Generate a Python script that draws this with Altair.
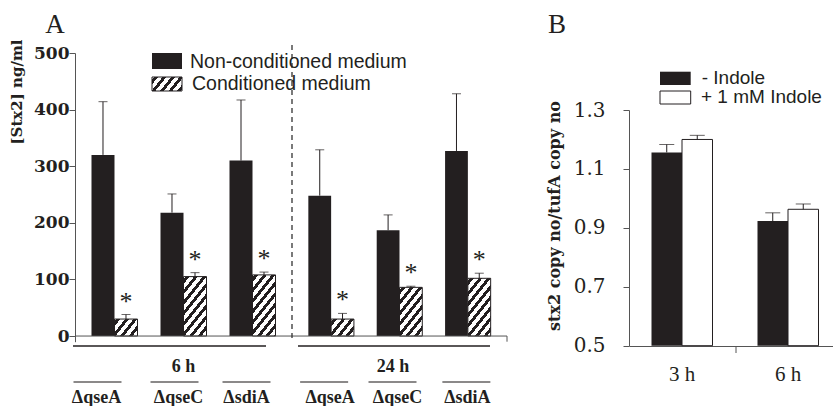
import altair as alt
import pandas as pd

# ---------------- data ----------------
strains = ["ΔqseA", "ΔqseC", "ΔsdiA"]
media = ["Non-conditioned medium", "Conditioned medium"]
nc_6h = [320, 218, 310]
nc_6h_err = [94, 33, 107]
c_6h = [30, 105, 108]
c_6h_err = [8, 7, 5]
nc_24h = [248, 187, 327]
nc_24h_err = [81, 27, 101]
c_24h = [30, 86, 102]
c_24h_err = [10, 2, 9]
a_ticks = [0, 100, 200, 300, 400, 500]

b_times = ["3 h", "6 h"]
b_groups = ["- Indole", "+ 1 mM Indole"]
b_minus = [1.156, 0.923]
b_minus_err = [0.027, 0.028]
b_plus = [1.200, 0.963]
b_plus_err = [0.014, 0.018]
b_ticks = [0.5, 0.7, 0.9, 1.1, 1.3]

# ---------------- layout / style ----------------
INK = "#231f20"
AXC = "#555555"
W, H = 758, 293
A_YR = [288.7, 0]
A_PX = 288.7 / 510.0
PI, PO = 1 / 3, 0.239
line_shift_6 = [-17, -9, -6]
label_shift_6 = [-18, -5, -6]
line_shift_24 = [-7, -7, -1.5]
label_shift_24 = [-1, -2, -0.5]

a_yscale = alt.Scale(domain=[-10, 500], range=A_YR, nice=False, zero=False)
a_yaxis = alt.Axis(values=a_ticks, title=None, grid=False, domainColor=AXC, tickColor=AXC,
                   tickSize=6, labelPadding=0, labelFont="DejaVu Serif", labelFontWeight="bold",
                   labelFontSize=17, labelColor=INK)
b_yscale = alt.Scale(domain=[0.5, 1.3], range=[292.7, 57], nice=False, zero=False)
b_yaxis = alt.Axis(orient="left", offset=-554, values=b_ticks, format=".1f", title=None, grid=False,
                   domainColor=AXC, tickColor=AXC, tickSize=6, labelPadding=18,
                   labelFont="DejaVu Serif", labelFontSize=20, labelColor=INK)
b_xaxis = alt.Axis(orient="bottom", ticks=False, tickSize=0, domain=True, domainColor=AXC,
                   labelAngle=0, labelPadding=17, labelFont="Liberation Serif", labelFontSize=21,
                   labelColor=INK, title=None)


def hatch_fill(w, h, px=8.5, slope=1.25, duty=0.45):
    a = slope * w
    gy1 = h / a
    smax1 = (a + h) / (a * (1 + gy1 ** 2))
    K = max(1.0, smax1 * 1.02)
    gx, gy = K, K * gy1
    denom = gx ** 2 + gy ** 2
    to_s = lambda c: c * K / (a * denom)
    P = slope * px
    cmax = a + h
    segs = []
    c0 = -P * 0.3
    while c0 < cmax:
        segs.append((c0, c0 + (1 - duty) * P, "white"))
        segs.append((c0 + (1 - duty) * P, c0 + P, INK))
        c0 += P
    stops = []
    for s0, s1, col in segs:
        s0, s1 = max(0.0, s0), min(cmax, s1)
        if s1 <= s0:
            continue
        stops.append({"offset": round(min(1.0, to_s(s0)), 5), "color": col})
        stops.append({"offset": round(min(1.0, to_s(s1)), 5), "color": col})
    return {"gradient": "linear", "x1": 0, "y1": 0, "x2": gx, "y2": gy, "stops": stops}


def a_block(tlabel, nc, nc_err, c, c_err, xr, axis_on, lsh, tsh, tx, bx1, bx2):
    rows = []
    for i, s in enumerate(strains):
        rows.append(dict(strain=s, medium=media[0], value=nc[i], upper=nc[i] + nc_err[i]))
        rows.append(dict(strain=s, medium=media[1], value=c[i], upper=c[i] + c_err[i]))
    df = pd.DataFrame(rows)
    xs = alt.Scale(domain=strains, range=xr, paddingInner=PI, paddingOuter=PO)
    X = alt.X("strain:N", scale=xs, axis=None)
    XO = alt.XOffset("medium:N", scale=alt.Scale(domain=media, paddingInner=0, paddingOuter=0))
    yax = a_yaxis if axis_on else None

    def Y(f):
        return alt.Y(f, scale=a_yscale, axis=yax)

    base = alt.Chart(df)
    step = (xr[1] - xr[0]) / (3 - PI + 2 * PO)
    bw = step * (1 - PI) / 2
    layers = []
    layers.append(base.transform_filter(alt.datum.medium == media[0]).mark_bar(color=INK).encode(
        x=X, xOffset=XO, y=Y("value:Q"), y2=alt.Y2(datum=0)))
    for i, s in enumerate(strains):
        g = hatch_fill(bw, c[i] * A_PX)
        layers.append(base.transform_filter((alt.datum.strain == s) & (alt.datum.medium == media[1]))
                      .mark_bar(fill=g, stroke=INK, strokeWidth=1).encode(
            x=X, xOffset=XO, y=Y("value:Q"), y2=alt.Y2(datum=0)))
    layers.append(base.mark_rule(color=INK, strokeWidth=1).encode(
        x=X, xOffset=XO, y=Y("value:Q"), y2="upper:Q"))
    layers.append(base.mark_tick(orient="horizontal", size=9, thickness=1, color=INK).encode(
        x=X, xOffset=XO, y=Y("upper:Q")))
    layers.append(base.transform_filter(alt.datum.medium == media[1]).mark_text(
        text="*", font="Liberation Serif", fontSize=26, dy=-5, baseline="alphabetic",
        align="center", color=INK).encode(x=X, xOffset=XO, y=Y("upper:Q")))
    # offsets are measured from band start, so add half of the group width
    lab = pd.DataFrame({"strain": strains,
                        "lsh": [v + bw for v in lsh],
                        "tsh": [v + bw for v in tsh]})
    lbase = alt.Chart(lab)
    layers.append(lbase.mark_tick(orient="horizontal", size=48, thickness=1.6, color=INK).encode(
        x=X, xOffset=alt.XOffset("lsh:Q", scale=None), y=alt.value(329)))
    layers.append(lbase.mark_text(font="Liberation Serif", fontWeight="bold", fontSize=18,
                                  baseline="alphabetic", align="center", color=INK).encode(
        x=X, xOffset=alt.XOffset("tsh:Q", scale=None), y=alt.value(350.3), text="strain:N"))
    dummy = alt.Chart(pd.DataFrame({"t": [tlabel]}))
    layers.append(dummy.mark_rule(color=INK, strokeWidth=1.3).encode(
        x=alt.value(bx1), x2=alt.value(bx2), y=alt.value(293)))
    layers.append(dummy.mark_text(font="Liberation Serif", fontWeight="bold", fontSize=18,
                                  baseline="alphabetic", align="center", color=INK).encode(
        x=alt.value(tx), y=alt.value(318.7), text="t:N"))
    return alt.layer(*layers)


A6 = a_block("6 h", nc_6h, nc_6h_err, c_6h, c_6h_err, [0, 217], True,
             line_shift_6, label_shift_6, 108.5, -2, 191)
A24 = a_block("24 h", nc_24h, nc_24h_err, c_24h, c_24h_err, [217, 432], False,
              line_shift_24, label_shift_24, 318, 223, 415)

one = alt.Chart(pd.DataFrame({"a": [1]}))
a_extra = alt.layer(
    one.mark_rule(color=AXC, strokeWidth=1).encode(
        x=alt.value(0), x2=alt.value(432), y=alt.Y(datum=0, scale=a_yscale, axis=None)),
    one.mark_rule(color=AXC, strokeWidth=1).encode(
        x=alt.value(432), y=alt.Y(datum=0, scale=a_yscale, axis=None), y2=alt.Y2(datum=-10)),
)

# ---------------- panel B ----------------
brows = []
for i, t in enumerate(b_times):
    brows.append(dict(time=t, grp=b_groups[0], value=b_minus[i], upper=b_minus[i] + b_minus_err[i]))
    brows.append(dict(time=t, grp=b_groups[1], value=b_plus[i], upper=b_plus[i] + b_plus_err[i]))
bdf = pd.DataFrame(brows)
BX = alt.X("time:N", scale=alt.Scale(domain=b_times, range=[554, 766], paddingInner=0, paddingOuter=0),
           axis=b_xaxis)
BXO = alt.XOffset("grp:N", scale=alt.Scale(domain=b_groups, paddingInner=0, paddingOuter=0.7377))


def BY(f):
    return alt.Y(f, scale=b_yscale, axis=b_yaxis)


bb = alt.Chart(bdf)
B = alt.layer(
    bb.transform_filter(alt.datum.grp == b_groups[0]).mark_bar(color=INK).encode(
        x=BX, xOffset=BXO, y=BY("value:Q"), y2=alt.Y2(datum=0.5)),
    bb.transform_filter(alt.datum.grp == b_groups[1]).mark_bar(fill="white", stroke=INK, strokeWidth=1).encode(
        x=BX, xOffset=BXO, y=BY("value:Q"), y2=alt.Y2(datum=0.5)),
    bb.mark_rule(color=INK, strokeWidth=1).encode(x=BX, xOffset=BXO, y=BY("value:Q"), y2="upper:Q"),
    bb.mark_tick(orient="horizontal", size=15, thickness=1, color=INK).encode(
        x=BX, xOffset=BXO, y=BY("upper:Q")),
)

# ---------------- annotations ----------------
sans = "Liberation Sans"
ann = alt.layer(
    # panel letters
    one.mark_text(text="A", font="Liberation Serif", fontSize=27, align="center", baseline="alphabetic",
                  color=INK).encode(x=alt.value(-20), y=alt.value(-20)),
    one.mark_text(text="B", font="Liberation Serif", fontSize=27, align="center", baseline="alphabetic",
                  color=INK).encode(x=alt.value(482), y=alt.value(-20)),
    # y titles
    one.mark_text(text="[Stx2] ng/ml", font="DejaVu Serif", fontWeight="bold", fontSize=15, angle=270,
                  align="center", baseline="middle", color=INK).encode(x=alt.value(-58.5), y=alt.value(39)),
    one.mark_text(text="stx2 copy no/tufA copy no", font="DejaVu Serif", fontWeight="bold", fontSize=16,
                  angle=270, align="center", baseline="middle", color=INK).encode(
        x=alt.value(479.5), y=alt.value(163)),
    # dashed separator
    one.mark_rule(color="#333333", strokeWidth=1.3, strokeDash=[5, 4]).encode(
        x=alt.value(217), y=alt.value(-8), y2=alt.value(287)),
    # legend A
    one.mark_rect(color=INK).encode(x=alt.value(77), x2=alt.value(107), y=alt.value(0), y2=alt.value(16)),
    one.mark_rect(fill=hatch_fill(30, 14), stroke=INK, strokeWidth=1).encode(
        x=alt.value(77), x2=alt.value(107), y=alt.value(24), y2=alt.value(38)),
    one.mark_text(text=media[0], font=sans, fontSize=19.5, align="left", baseline="middle", color=INK).encode(
        x=alt.value(115), y=alt.value(9)),
    one.mark_text(text=media[1], font=sans, fontSize=19.5, align="left", baseline="middle", color=INK).encode(
        x=alt.value(117), y=alt.value(31)),
    # legend B
    one.mark_rect(color=INK).encode(x=alt.value(585), x2=alt.value(615.7), y=alt.value(18.7), y2=alt.value(32)),
    one.mark_rect(fill="white", stroke=INK, strokeWidth=1).encode(
        x=alt.value(585), x2=alt.value(615.7), y=alt.value(38), y2=alt.value(51)),
    one.mark_text(text=b_groups[0], font=sans, fontSize=19, align="left", baseline="middle", color=INK).encode(
        x=alt.value(626.7), y=alt.value(25)),
    one.mark_text(text=b_groups[1], font=sans, fontSize=19, align="left", baseline="middle", color=INK).encode(
        x=alt.value(626), y=alt.value(44)),
    # B x tick between categories
    one.mark_rule(color=AXC, strokeWidth=1).encode(x=alt.value(661), y=alt.value(293), y2=alt.value(300)),
)

chart = alt.layer(A6, A24, a_extra, B, ann).resolve_scale(
    x="independent", y="independent", xOffset="independent"
).properties(
    width=W, height=H,
    autosize=alt.AutoSizeParams(type="none"),
    padding={"left": 75, "top": 53, "right": 0, "bottom": 60},
    background="white",
).configure_view(stroke=None)

chart.save("out.html", embed_options={"renderer": "svg", "actions": False})
